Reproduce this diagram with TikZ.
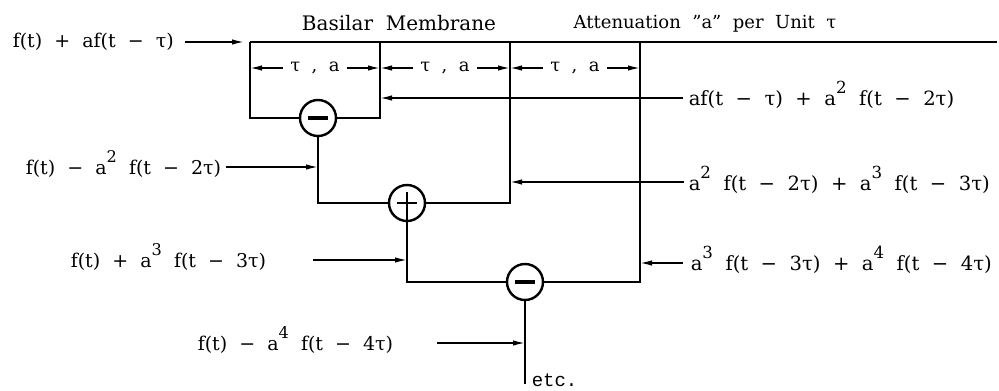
\documentclass[tikz,border=0pt]{standalone}
\usepackage{fontspec}
\setmainfont{DejaVu Serif}[WordSpace=2,Ligatures=ResetAll]
\newfontfamily\typed{Liberation Mono}
\usetikzlibrary{positioning,arrows.meta,calc}

% raised power, typed style
\newcommand{\pw}[1]{\raisebox{0.6em}{\scalebox{0.85}{#1}}}

\begin{document}
\begin{tikzpicture}[x=1pt,y=-1pt,line width=1.5pt,
    lbl/.style={font=\fontsize{19}{22}\selectfont,inner sep=0pt,anchor=base west},
    rlbl/.style={lbl,font=\fontsize{19.6}{22}\selectfont},
    head/.style={font=\fontsize{20}{24}\selectfont,inner sep=0pt,anchor=base},
    taul/.style={font=\fontsize{18}{22}\selectfont,inner sep=7pt},
    arr/.style={-{Latex[length=12pt,width=5.5pt]}},
    sumnode/.style={circle,draw,line width=2.4pt,minimum size=36pt,inner sep=0pt},
    minusnode/.style={sumnode,path picture={
        \draw[line width=3.4pt] ([xshift=-10pt]path picture bounding box.center)
          -- ([xshift=10pt]path picture bounding box.center);}},
    plusnode/.style={sumnode,path picture={
        \draw[line width=2.6pt] ([xshift=-10pt]path picture bounding box.center)
          -- ([xshift=10pt]path picture bounding box.center);
        \draw[line width=2.6pt] ([yshift=-18pt]path picture bounding box.center)
          -- ([yshift=11pt]path picture bounding box.center);}}]
  \useasboundingbox (0,0) rectangle (999,391);

  % membrane taps
  \coordinate (a0) at (250,42);
  \coordinate (a1) at (380,42);
  \coordinate (a2) at (510,42);
  \coordinate (a3) at (640,42);
  \coordinate (aend) at (997,42);

  % adders
  \node[minusnode] (m1) at (318,118) {};
  \node[plusnode] (p1) at (407,203) {};
  \node[minusnode] (m2) at (525,282) {};

  % headings
  \node[head] (bm) at (399,30) {Basilar Membrane};
  \node[head,font=\fontsize{18}{22}\selectfont] (att) at (705,28) {Attenuation "a" per Unit τ};

  % membrane and ladder
  \draw[line width=2.8pt] (a0) -- (aend);
  \draw (a0) |- (m1.west);
  \draw (m1.east) -| (a1);
  \draw (m1.south) |- (p1.west);
  \draw (p1.east) -| (a2);
  \draw (p1.south) |- (m2.west);
  \draw (m2.east) -| (a3);
  \coordinate (tail) at (525,384);
  \draw (m2.south) -- (tail);
  \node[lbl,font=\fontsize{19}{22}\typed] (etc) at (531,386) {etc.};

  % delay sections
  \foreach \l/\r in {250/380,380/510,510/640} {
    \node[taul] (tau\l) at ({(\l+\r)/2},68) {τ , a};
    \draw[arr] (tau\l.west) -- (\l,68);
    \draw[arr] (tau\l.east) -- (\r,68);
  }

  % inputs from the left
  \node[lbl] (in1) at (12,47) {f(t) + af(t − τ)};
  \node[lbl] (in2) at (25,174) {f(t) − a\pw{2} f(t − 2τ)};
  \node[lbl] (in3) at (70,267) {f(t) + a\pw{3} f(t − 3τ)};
  \node[lbl] (in4) at (197,350) {f(t) − a\pw{4} f(t − 4τ)};
  \coordinate (s1) at (185,42);
  \coordinate (s2) at (226,167);
  \coordinate (s3) at (313,260);
  \coordinate (s4) at (437,343);
  \draw[arr] (s1) -- (244,42);
  \draw[arr] (s2) -- (s2 -| m1.south);
  \draw[arr] (s3) -- (s3 -| p1.south);
  \draw[arr] (s4) -- (s4 -| tail);

  % returns from the right
  \node[rlbl] (out1) at (688,105) {af(t − τ) + a\pw{2} f(t − 2τ)};
  \node[rlbl] (out2) at (688,190) {a\pw{2} f(t − 2τ) + a\pw{3} f(t − 3τ)};
  \node[rlbl] (out3) at (690,270) {a\pw{3} f(t − 3τ) + a\pw{4} f(t − 4τ)};
  \coordinate (r1) at (683,98);
  \coordinate (r2) at (684,182);
  \coordinate (r3) at (683,263);
  \draw[arr] (r1) -- (r1 -| a1);
  \draw[arr] (r2) -- (r2 -| a2);
  \draw[arr] (r3) -- (r3 -| a3);
\end{tikzpicture}
\end{document}
